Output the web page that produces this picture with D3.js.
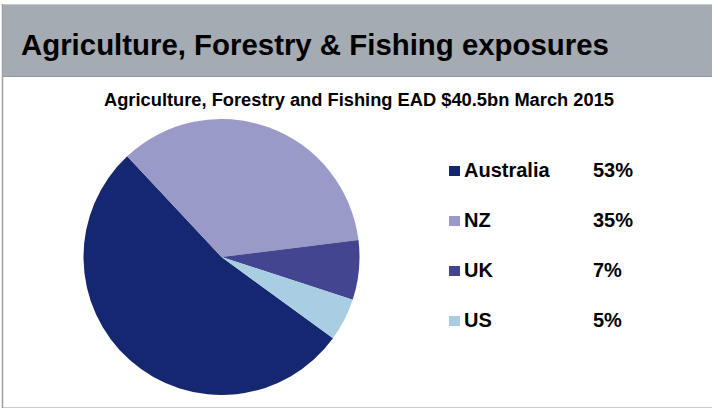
<!DOCTYPE html>
<html>
<head>
<meta charset="utf-8">
<script src="https://cdn.jsdelivr.net/npm/d3@7"></script>
<style>
  html, body { margin: 0; padding: 0; background: #ffffff; }
  svg { display: block; }
  text { font-family: "Liberation Sans", Arial, Helvetica, sans-serif; font-weight: bold; fill: #000; }
</style>
</head>
<body>
<svg id="chart" width="712" height="410"></svg>
<script>
const categories = ["Australia", "NZ", "UK", "US"];
const values = [53, 35, 7, 5];
const labels = ["53%", "35%", "7%", "5%"];
const colors = ["#152770", "#9a9ac8", "#434590", "#a9cee3"];
const title = "Agriculture, Forestry & Fishing exposures";
const subtitle = "Agriculture, Forestry and Fishing EAD $40.5bn March 2015";

const svg = d3.select("#chart");

// frame
svg.append("rect").attr("x", 2.5).attr("y", 4.5).attr("width", 712).attr("height", 403)
  .attr("fill", "#ffffff").attr("stroke", "#c8cbce").attr("stroke-width", 1);
svg.append("line").attr("x1", 2.5).attr("x2", 2.5).attr("y1", 4).attr("y2", 408)
  .attr("stroke", "#9aa0a6").attr("stroke-width", 1.5);

// header band
svg.append("rect").attr("x", 3).attr("y", 5).attr("width", 709).attr("height", 71)
  .attr("fill", "#a4abb2");
svg.append("line").attr("x1", 3).attr("x2", 712).attr("y1", 76.5).attr("y2", 76.5)
  .attr("stroke", "#8f969d").attr("stroke-width", 1);

svg.append("text").attr("x", 21).attr("y", 55)
  .attr("font-size", 29.4).text(title);

svg.append("text").attr("x", 359).attr("y", 106).attr("text-anchor", "middle")
  .attr("font-size", 18.3).text(subtitle);

// pie
const cx = 221.5, cy = 257, r = 138;
const startDeg = 126.1;
const pie = d3.pie().sort(null).value(d => d)
  .startAngle(startDeg * Math.PI / 180)
  .endAngle(startDeg * Math.PI / 180 + 2 * Math.PI);
const arc = d3.arc().innerRadius(0).outerRadius(r);
const color = d3.scaleOrdinal().domain(categories).range(colors);

svg.append("g").attr("transform", `translate(${cx},${cy})`)
  .selectAll("path").data(pie(values)).join("path")
  .attr("d", arc)
  .attr("fill", (d, i) => color(categories[i]));

// legend
const y = d3.scalePoint().domain(categories).range([177, 327]);
const leg = svg.append("g").selectAll("g").data(categories).join("g");
leg.append("rect").attr("x", 449).attr("y", d => y(d) - 11)
  .attr("width", 11).attr("height", 10).attr("fill", d => color(d));
leg.append("text").attr("x", 464).attr("y", d => y(d))
  .attr("font-size", 20).text(d => d);
leg.append("text").attr("x", 593).attr("y", d => y(d))
  .attr("font-size", 20).text((d, i) => labels[i]);
</script>
</body>
</html>
